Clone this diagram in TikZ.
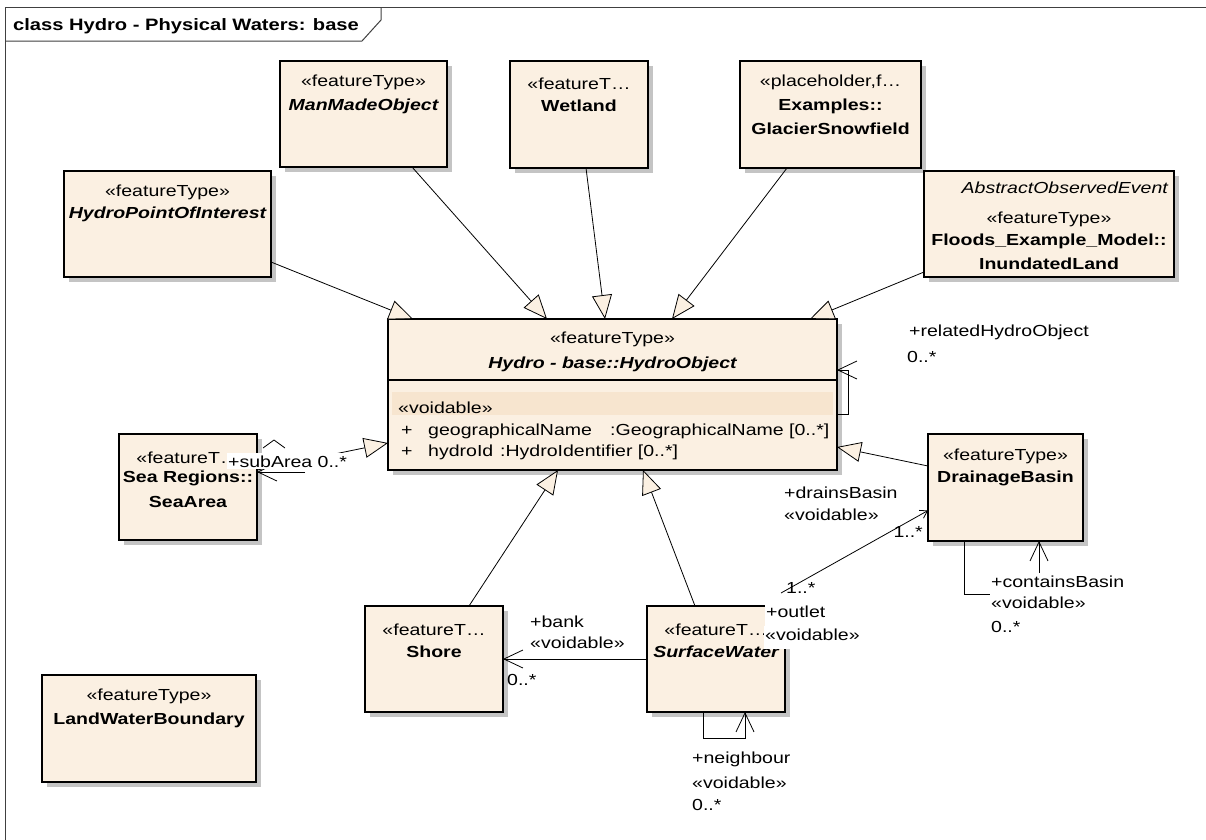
\documentclass[tikz,border=0pt]{standalone}
\usepackage{fontspec}
\setmainfont{Liberation Sans}[FakeStretch=1.22]
\usetikzlibrary{arrows.meta,calc,shadows}
\definecolor{boxfill}{HTML}{FBF0E2}
\definecolor{bandfill}{HTML}{F7E5CF}
\definecolor{shadowc}{HTML}{C4C4C4}
\definecolor{framec}{HTML}{404040}
\newcommand\umlfont{\fontsize{16pt}{23pt}\selectfont}
\newcommand\hdrfont{\fontsize{16.5pt}{20pt}\selectfont\bfseries}
\begin{document}
\begin{tikzpicture}[x=1pt,y=-1pt,
  cls/.style={draw=black, line width=1.1pt, fill=boxfill, outer sep=0pt, inner sep=0pt,
     drop shadow={shadow xshift=5pt, shadow yshift=-5pt, fill=shadowc, opacity=1}},
  txt/.style={font=\umlfont, inner sep=0pt, anchor=base},
  lbl/.style={font=\umlfont, inner sep=0pt, anchor=base west},
  lblw/.style={font=\umlfont, anchor=base west, fill=white, inner xsep=1pt, inner ysep=0pt, text height=14pt, text depth=9pt},
  lbls/.style={font=\umlfont, anchor=base west, fill=white, inner xsep=1pt, inner ysep=0pt, text height=14pt, text depth=2pt},
  gen/.style={draw=black, line width=0.8pt, -{Triangle[length=24pt,width=20pt,fill=boxfill]}},
  assoc/.style={draw=black, line width=0.8pt, -{Straight Barb[length=19pt,width=18pt]}},
  assocs/.style={draw=black, line width=0.8pt, -{Straight Barb[length=7pt,width=9pt]}},
  ]
\fill[white] (0,0) rectangle (1206,839);
\useasboundingbox (0,0) rectangle (1206,839);
% frame
\draw[framec, line width=1pt] (5,850) -- (5,7) -- (1215,7);
\draw[framec, line width=1pt] (5,41) -- (362,41) -- (381,20) -- (381,7);
\node[font=\hdrfont, inner sep=0pt, anchor=base west] (hdr) at (13,30.5) {class Hydro - Physical Waters: base};

% boxes
\node[cls, minimum width=207pt, minimum height=106pt] (hpoi) at (167.5,224) {};
\node[txt] (hpoi1) at (167.5,196.6) {«featureType»};
\node[txt] (hpoi2) at (167.5,218.5) {\bfseries\itshape HydroPointOfInterest};

\node[cls, minimum width=167pt, minimum height=106pt] (mmo) at (363.5,114) {};
\node[txt] (mmo1) at (363.5,86) {«featureType»};
\node[txt] (mmo2) at (363.5,110) {\bfseries\itshape ManMadeObject};

\node[cls, minimum width=138pt, minimum height=107pt] (wet) at (579,114.5) {};
\node[txt] (wet1) at (579,89) {«featureT…};
\node[txt] (wet2) at (579,111.5) {\bfseries Wetland};

\node[cls, minimum width=181pt, minimum height=107pt] (gla) at (830.5,114.5) {};
\node[txt] (gla1) at (830.5,86.6) {«placeholder,f…};
\node[txt] (gla2) at (830.5,110) {\bfseries Examples::};
\node[txt] (gla3) at (830.5,134) {\bfseries GlacierSnowfield};

\node[cls, minimum width=250pt, minimum height=106pt] (inu) at (1049,224) {};
\node[txt, anchor=base east] (inu0) at (1168,193) {\itshape AbstractObservedEvent};
\node[txt] (inu1) at (1049,223) {«featureType»};
\node[txt] (inu2) at (1049,245) {\bfseries Floods\_Example\_Model::};
\node[txt] (inu3) at (1049,269) {\bfseries InundatedLand};

\node[cls, minimum width=449pt, minimum height=151pt] (hydro) at (612.5,394.5) {};
\draw[line width=2.2pt] (hydro.north west) -- (hydro.north east);
\fill[bandfill] ($(hydro.north west)+(4,73)$) rectangle ($(hydro.north east)+(-4,96)$);
\draw[line width=1.1pt] ($(hydro.north west)+(0,61)$) -- ($(hydro.north east)+(0,61)$);
\node[txt] (hyd1) at (612.5,343.5) {«featureType»};
\node[txt] (hyd2) at (612.5,368) {\bfseries\itshape Hydro - base::HydroObject};
\node[lbl] (hyd3) at (398,413) {«voidable»};
\node[lbl] (hyd4) at (401,435) {+};
\node[lbl] (hyd5) at (428,435) {geographicalName};
\node[lbl] (hyd6) at (610,435) {:GeographicalName [0..*]};
\node[lbl] (hyd7) at (401,456) {+};
\node[lbl] (hyd8) at (428,456) {hydroId};
\node[lbl] (hyd9) at (500,456) {:HydroIdentifier [0..*]};

\node[cls, minimum width=138pt, minimum height=106pt] (sea) at (188,487) {};
\node[txt] (sea1) at (188,463) {«featureT…};
\node[txt] (sea2) at (188,482) {\bfseries Sea Regions::};
\node[txt] (sea3) at (188,507) {\bfseries SeaArea};

\node[cls, minimum width=155pt, minimum height=107pt] (db) at (1005.5,487.5) {};
\node[txt] (db1) at (1005.5,460) {«featureType»};
\node[txt] (db2) at (1005.5,482) {\bfseries DrainageBasin};

\node[cls, minimum width=138pt, minimum height=106pt] (shore) at (434,659) {};
\node[txt] (sh1) at (434,635) {«featureT…};
\node[txt] (sh2) at (434,657) {\bfseries Shore};

\node[cls, minimum width=138pt, minimum height=106pt] (sw) at (716,659) {};
\node[txt] (sw1) at (716,635) {«featureT…};
\node[txt] (sw2) at (716,657) {\bfseries\itshape SurfaceWater};

\node[cls, minimum width=214pt, minimum height=107pt] (lwb) at (149,728.5) {};
\node[txt] (lwb1) at (149,700) {«featureType»};
\node[txt] (lwb2) at (149,724) {\bfseries LandWaterBoundary};

% generalizations
\draw[gen] ($(hpoi.north east)+(0,91)$) -- ($(hydro.north west)+(25,0)$);
\draw[gen] ($(mmo.south west)+(132,0)$) -- ($(hydro.north west)+(159,0)$);
\draw[gen] ($(wet.south west)+(76,0)$) -- ($(hydro.north west)+(217,0)$);
\draw[gen] ($(gla.south west)+(47,0)$) -- ($(hydro.north west)+(284,0)$);
\draw[gen] ($(inu.south west)+(0,-5)$) -- ($(hydro.north west)+(422,0)$);
\draw[gen] ($(db.north west)+(0,32)$) -- ($(hydro.north east)+(0,128)$);
\draw[gen] ($(sea.north east)+(0,36)$) -- ($(hydro.north west)+(0,124)$);
\draw[gen] ($(shore.north west)+(104,0)$) -- ($(hydro.south west)+(170,0)$);
\draw[gen] ($(sw.north west)+(48,0)$) -- ($(hydro.south west)+(255,0)$);

% associations
\draw[assoc] ($(hydro.north east)+(0,95)$) -- ++(11,0) -- ++(0,-44) -- ++(-11,0);
\draw[assoc] (sw.west) -- (shore.east);
\draw[assoc] ($(sw.south west)+(56,0)$) -- ++(0,26) -- ++(42,0) -- ++(0,-26);
\draw[assoc] ($(db.south west)+(36,0)$) -- ++(0,53) -- ++(75,0) -- ++(0,-53);
\draw[assocs] ($(sw.north east)+(-4,-13)$) -- ($(db.west)+(0,23)$);
\draw[assoc] ($(sea.north east)+(48,38)$) -- ($(sea.north east)+(0,38)$);
\draw[line width=0.8pt] ($(sea.north east)+(6,14)$) -- ++(11,-8) -- ++(11,8);

% labels
\node[lbl] (lrel1) at (909,336) {+relatedHydroObject};
\node[lbl] (lrel2) at (907,362) {0..*};
\node[lbl] (ldr1) at (784,498) {+drainsBasin};
\node[lbl] (ldr2) at (784,520) {«voidable»};
\node[lbl, anchor=base east] (ldr3) at (923,537) {1..*};
\node[lbl] (lout0) at (786,593) {1..*};
\node[lblw] (lout1) at (765,617) {+outlet};
\node[lblw] (lout2) at (764,640) {«voidable»};
\node[lblw] (lcon1) at (990,587) {+containsBasin};
\node[lblw] (lcon2) at (990,608) {«voidable»};
\node[lblw] (lcon3) at (990,632) {0..*};
\node[lbl] (lbk1) at (530,627) {+bank};
\node[lbl] (lbk2) at (530,648) {«voidable»};
\node[lbl] (lbk3) at (507,685) {0..*};
\node[lbl] (lnb1) at (692,763) {+neighbour};
\node[lbl] (lnb2) at (692,788) {«voidable»};
\node[lbl] (lnb3) at (692,810) {0..*};
\node[lbls] (lsub) at (227,467) {+subArea 0..*};
\end{tikzpicture}
\end{document}
